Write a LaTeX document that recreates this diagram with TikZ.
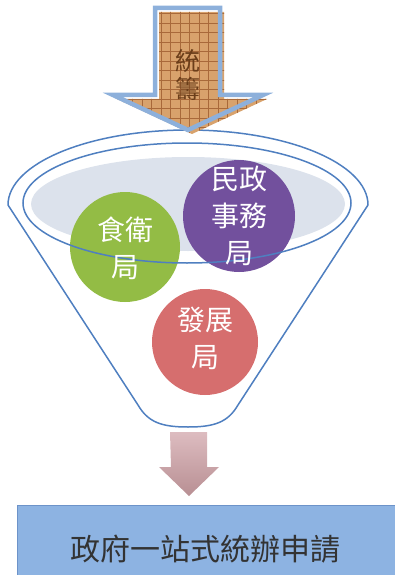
\documentclass[tikz,border=0pt]{standalone}
\usepackage{fontspec}
\newfontfamily\cjk{Noto Sans CJK TC}
\definecolor{funnelblue}{HTML}{4F7FC0}
\definecolor{arrowblue}{HTML}{8DB0DB}
\definecolor{arroworange}{HTML}{D8A26C}
\definecolor{gridbrown}{HTML}{A8693A}
\definecolor{txtbrown}{HTML}{6B3E1A}
\definecolor{innerfill}{HTML}{DCE2EC}
\definecolor{cgreen}{HTML}{93BC45}
\definecolor{cpurple}{HTML}{72509D}
\definecolor{cred}{HTML}{D66E6E}
\definecolor{boxfill}{HTML}{8DB3E2}
\definecolor{boxdraw}{HTML}{6D93C9}
\definecolor{mauvetop}{HTML}{DDBCC0}
\definecolor{mauvebot}{HTML}{B88F93}
\begin{document}
\begin{tikzpicture}[x=1pt,y=-1pt,
  funnel/.style={draw=funnelblue,line width=1.5pt},
  bureau/.style={circle,minimum size=#1,inner sep=0pt},
  circtxt/.style={text=white,align=center,font=\cjk\fontsize{28}{37}\selectfont}]
\useasboundingbox (0,0) rectangle (395,575);
% funnel outline
\draw[funnel,line join=round] (138,405) -- (8,205)
  arc[start angle=180,end angle=360,x radius=180,y radius=75]
  -- (238,405) .. controls (228,422) and (215,427) .. (188,427)
  .. controls (161,427) and (148,422) .. (138,405);
% inner fill
\fill[innerfill] (188,204) ellipse[x radius=157,y radius=47];
% circles
\node[bureau=110pt,fill=cgreen] (food) at (125,247) {};
\node[bureau=112pt,fill=cpurple] (home) at (239,216) {};
\node[bureau=106pt,fill=cred] (dev) at (205,342) {};
% inner ellipse outline
\draw[funnel] (187,203) ellipse[x radius=164,y radius=60];
% circle texts
\node[circtxt] (foodt) at (125,248) {食衛\\局};
\node[circtxt] (homet) at (239,216) {民政\\事務\\局};
\node[circtxt] (devt) at (205,338) {發展\\局};
% top arrow
\begin{scope}[shift={(4,4)}]
\clip (155,8) -- (220,8) -- (220,95) -- (263,95) -- (188,130) -- (113,95) -- (155,95) -- cycle;
\fill[arroworange] (100,0) rectangle (280,140);
\foreach \gx in {100,109.5,...,280} \draw[gridbrown,line width=0.5pt] (\gx,0) -- (\gx,140);
\foreach \gy in {0,9.5,...,140} \draw[gridbrown,line width=0.5pt] (100,\gy) -- (280,\gy);
\end{scope}
\draw[arrowblue,line width=4.5pt,line join=miter] (155,8) -- (220,8) -- (220,95) -- (263,95) -- (188,130) -- (113,95) -- (155,95) -- cycle;
\node[text=txtbrown,font=\cjk\fontsize{25}{28}\selectfont,align=center] (tong) at (188,75) {統\\籌};
% bottom arrow
\shade[top color=mauvetop,bottom color=mauvebot]
  (170,432) -- (207,432) -- (207,467) -- (219,467) -- (189,496) -- (159,467) -- (171,467) -- cycle;
% result box
\node[draw=boxdraw,fill=boxfill,line width=1pt,minimum width=380pt,minimum height=75pt,anchor=north west,
  inner sep=0pt] (box) at (17,505) {};
\node[text=black!80,font=\cjk\fontsize{30}{32}\selectfont] (boxt) at (205,549) {政府一站式統辦申請};
\end{tikzpicture}
\end{document}
